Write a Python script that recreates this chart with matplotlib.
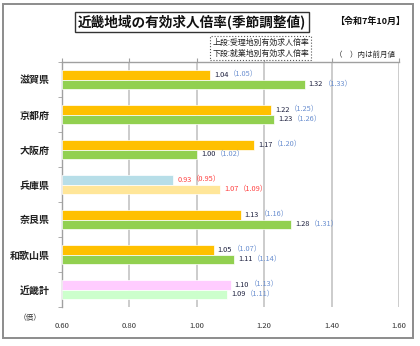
import matplotlib
matplotlib.use("Agg")
import matplotlib.pyplot as plt
from matplotlib.patches import Rectangle
import numpy as np

plt.rcParams['font.family'] = ['Noto Sans CJK JP', 'DejaVu Sans']

# 都道府県別の有効求人倍率（上段：受理地別、下段：就業地別）
prefectures = ['滋賀県', '京都府', '大阪府', '兵庫県', '奈良県', '和歌山県', '近畿計']
juri_now = [1.04, 1.22, 1.17, 0.93, 1.13, 1.05, 1.10]
juri_prev = [1.05, 1.25, 1.20, 0.95, 1.16, 1.07, 1.13]
shugyo_now = [1.32, 1.23, 1.00, 1.07, 1.28, 1.11, 1.09]
shugyo_prev = [1.33, 1.26, 1.02, 1.09, 1.31, 1.14, 1.11]
x_ticks = [0.60, 0.80, 1.00, 1.20, 1.40, 1.60]

top_colors = ['#FFC000', '#FFC000', '#FFC000', '#B7DEE8', '#FFC000', '#FFC000', '#FFCCFF']
bottom_colors = ['#92D050', '#92D050', '#92D050', '#FFE699', '#92D050', '#92D050', '#CCFFCC']
val_colors = ['#1F2240'] * 7
paren_colors = ['#6A8FD0'] * 7
val_colors[3] = '#FF4040'
paren_colors[3] = '#FF4040'

W, H = 420, 346
fig = plt.figure(figsize=(W / 100, H / 100), dpi=100)

# outer frame
fig.patches.append(Rectangle((3 / W, 1 - 338 / H), 410 / W, 334 / H,
                             transform=fig.transFigure, fill=False,
                             ec='#8C8C8C', lw=1.4))

ax = fig.add_axes([62 / W, 1 - 307 / H, 337 / W, 245 / H])
y = np.arange(len(prefectures))
bh = 0.27
ax.barh(y - bh / 2, [v - 0.6 for v in juri_now], left=0.6, height=bh,
        color=top_colors, edgecolor='white', linewidth=0.5, zorder=3)
ax.barh(y + bh / 2, [v - 0.6 for v in shugyo_now], left=0.6, height=bh,
        color=bottom_colors, edgecolor='white', linewidth=0.5, zorder=3)

ax.set_xlim(0.6, 1.6)
ax.set_ylim(6.5, -0.5)

for v, yy, vc, pc, pv in [(juri_now[i], y[i] - bh / 2, val_colors[i], paren_colors[i], juri_prev[i])
                          for i in range(7)] + \
                         [(shugyo_now[i], y[i] + bh / 2, val_colors[i], paren_colors[i], shugyo_prev[i])
                          for i in range(7)]:
    t = ax.annotate(f'{v:.2f}', xy=(v, yy), xytext=(3, 0), textcoords='offset points',
                    va='center', ha='left', fontsize=5.3, color=vc, zorder=5)
    ax.annotate(f'（{pv:.2f}）', xy=(1, 0.5), xycoords=t, xytext=(0.3, 0),
                textcoords='offset points', va='center', ha='left',
                fontsize=5.3, color=pc, zorder=5)

# grid and axes styling
ax.set_xticks(x_ticks)
ax.xaxis.grid(True, color='#C8C8C8', lw=1.3, zorder=0)
ax.tick_params(axis='x', which='both', top=True, bottom=False, labeltop=False,
               labelbottom=True, direction='out', length=3, color='#A0A0A0',
               labelsize=5.5, labelcolor='#333333', pad=8)
ax.set_xticklabels([f'{t:.2f}' for t in x_ticks])

ax.set_yticks(y)
ax.set_yticklabels(prefectures, fontsize=7.2, fontweight='bold', color='#222222')
ax.set_yticks(np.arange(-0.5, 7, 1), minor=True)
ax.tick_params(axis='y', which='major', length=0, pad=9)
ax.tick_params(axis='y', which='minor', length=3, color='#A0A0A0', direction='out')

for s in ['right', 'bottom']:
    ax.spines[s].set_visible(False)
for s in ['left', 'top']:
    ax.spines[s].set_color('#A0A0A0')
    ax.spines[s].set_linewidth(1.0)

fig.text(30 / W, 1 - 318 / H, '（倍）', fontsize=5.5, color='#333333',
         ha='center', va='center')

# titles and notes
fig.text(192 / W, 1 - 22 / H, '近畿地域の有効求人倍率(季節調整値)', fontsize=9.8,
         fontweight='bold', ha='center', va='center', color='#111111',
         bbox=dict(boxstyle='square,pad=0.2', fc='white', ec='#333333', lw=1.0))
fig.text(370 / W, 1 - 21 / H, '【令和7年10月】', fontsize=6.5, fontweight='bold',
         ha='center', va='center', color='#111111')
fig.text(260.5 / W, 1 - 48 / H, '上段:受理地別有効求人倍率\n下段:就業地別有効求人倍率',
         fontsize=5.7, ha='center', va='center', color='#222222', linespacing=1.3,
         bbox=dict(boxstyle='square,pad=0.3', fc='white', ec='#555555', lw=0.8,
                   linestyle=':'))
fig.text(365 / W, 1 - 55 / H, '（　）内は前月値', fontsize=5.4, ha='center',
         va='center', color='#222222')

fig.savefig('out.png', dpi=100)
